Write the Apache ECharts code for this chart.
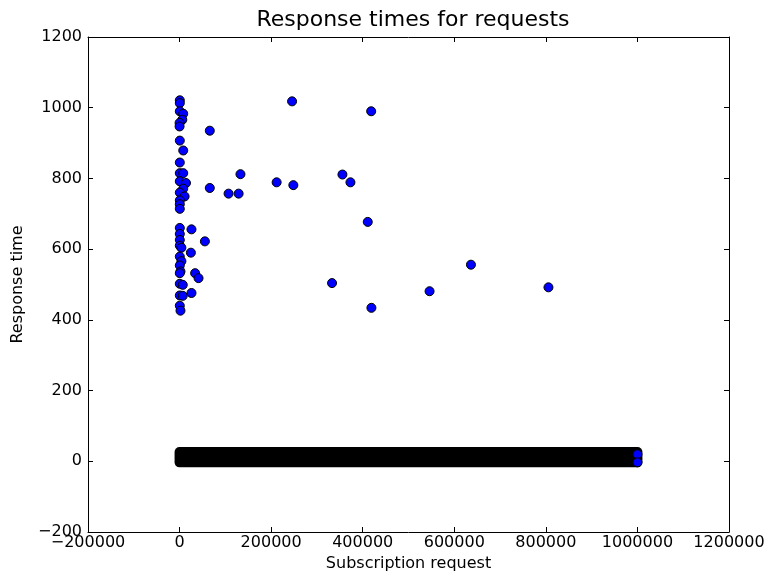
<!DOCTYPE html>
<html>
<head>
<meta charset="utf-8">
<script src="https://cdn.jsdelivr.net/npm/echarts@6/dist/echarts.min.js"></script>
<style>
  html, body { margin: 0; padding: 0; background: #fff; }
  #chart { width: 770px; height: 580px; }
</style>
</head>
<body>
<div id="chart"></div>
<script>
// x = subscription request index, y = response time
const outliers = [
  [500, 1021], [500, 1013], [500, 990], [8000, 983], [6000, 966], [0, 957], [0, 947],
  [500, 907], [8000, 879], [500, 845], [500, 815], [8000, 815], [500, 792], [14000, 787],
  [8000, 771], [500, 760], [11000, 749], [500, 738], [500, 727], [500, 714], [500, 660],
  [500, 643], [500, 626], [500, 610], [4000, 604], [500, 579], [4000, 566], [500, 554],
  [2000, 537], [500, 532], [500, 502], [7000, 499], [500, 469], [7000, 468], [500, 440],
  [2000, 426],
  [26000, 656], [55300, 622], [24700, 590], [34000, 532], [41400, 518], [26000, 476],
  [66000, 935], [133000, 812], [212000, 789], [66000, 773], [107000, 757], [129000, 757],
  [245700, 1018], [418500, 990], [355700, 811], [248500, 781], [373200, 789],
  [411000, 677], [636400, 556], [333000, 504], [546000, 481], [805700, 492], [419000, 434]
]
// last points of the dense band of fast responses
const bandEnd = [[1000000, 20], [1000000, -3]]
// dense band: [xFrom, xTo, yFrom, yTo]
const band = [[0, 1000000, -3, 26]]

const xTicks = { min: -200000, max: 1200000, step: 200000 }
const yTicks = { min: -200, max: 1200, step: 200 }

const minus = (v) => (v < 0 ? '\u2212' + Math.abs(v) : String(v))
const font = 'DejaVu Sans'
const lineCol = '#000'

const chart = echarts.init(document.getElementById('chart'))

const baseAxis = (t) => ({
  type: 'value',
  min: t.min,
  max: t.max,
  interval: t.step,
  axisLine: { show: true, onZero: false, lineStyle: { color: lineCol, width: 1 } },
  axisTick: { show: true, inside: true, length: 5, lineStyle: { color: lineCol } },
  splitLine: { show: false }
})

chart.setOption({
  animation: false,
  textStyle: { fontFamily: font },
  title: {
    text: 'Response times for requests',
    left: 408,
    textAlign: 'center',
    top: 4,
    textStyle: { fontFamily: font, fontSize: 22, fontWeight: 'normal', color: '#000' }
  },
  grid: { left: 88, right: 41, top: 37, bottom: 48 },
  xAxis: [
    {
      ...baseAxis(xTicks),
      position: 'bottom',
      axisLabel: { color: '#000', fontSize: 16, margin: 3, formatter: minus },
      name: 'Subscription request',
      nameLocation: 'middle',
      nameGap: 24,
      nameTextStyle: { color: '#000', fontSize: 16 }
    },
    { ...baseAxis(xTicks), position: 'top', axisLabel: { show: false } }
  ],
  yAxis: [
    {
      ...baseAxis(yTicks),
      position: 'left',
      axisLabel: { color: '#000', fontSize: 16, margin: 6, formatter: minus },
      name: 'Response time',
      nameLocation: 'middle',
      nameGap: 62,
      nameTextStyle: { color: '#000', fontSize: 16 }
    },
    { ...baseAxis(yTicks), position: 'right', axisLabel: { show: false } }
  ],
  series: [
    {
      type: 'custom',
      z: 2,
      data: band,
      encode: { x: [0, 1], y: [2, 3] },
      renderItem: (params, api) => {
        const a = api.coord([api.value(0), api.value(3)])
        const b = api.coord([api.value(1), api.value(2)])
        const r = 5
        return {
          type: 'rect',
          shape: { x: a[0] - r, y: a[1] - r, width: b[0] - a[0] + 2 * r, height: b[1] - a[1] + 2 * r, r: r },
          style: { fill: '#000' }
        }
      }
    },
    {
      type: 'scatter',
      z: 3,
      symbolSize: 9,
      data: outliers.concat(bandEnd),
      itemStyle: { color: '#0000ff', borderColor: '#000', borderWidth: 1, opacity: 1 }
    }
  ]
})
</script>
</body>
</html>
